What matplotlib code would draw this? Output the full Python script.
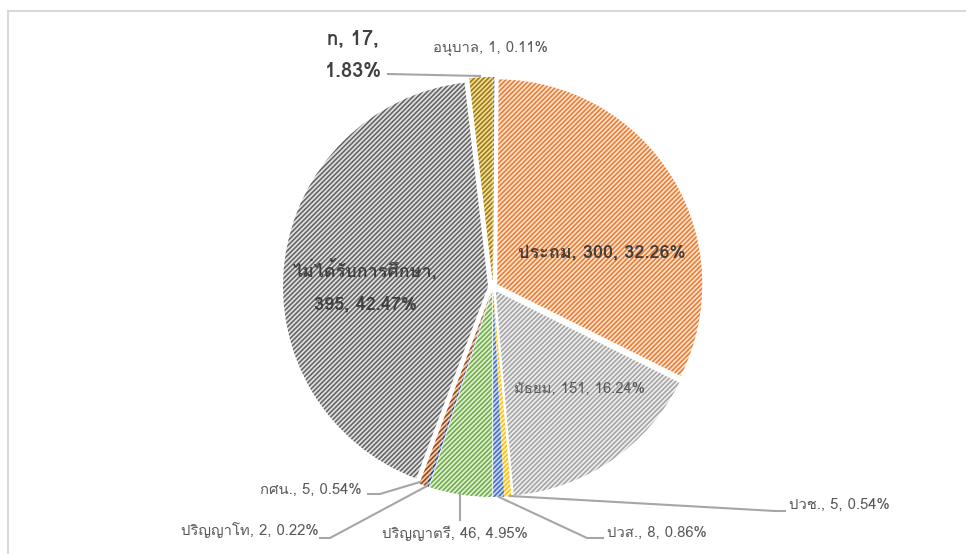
import matplotlib
matplotlib.use('Agg')
import matplotlib.pyplot as plt
from matplotlib import font_manager
from matplotlib.ft2font import FT2Font
from matplotlib.patches import Rectangle

# find an installed font that has Thai glyphs
thai_font = None
for f in font_manager.fontManager.ttflist:
    try:
        if 0x0E01 in FT2Font(f.fname).get_charmap():
            thai_font = f.name
            break
    except Exception:
        pass
families = ([thai_font] if thai_font else []) + ['DejaVu Sans']
plt.rcParams['font.family'] = families
plt.rcParams['hatch.linewidth'] = 1.2

labels = ['อนุบาล', 'ประถม', 'มัธยม', 'ปวช.', 'ปวส.', 'ปริญญาตรี',
          'ปริญญาโท', 'กศน.', 'ไม่ได้รับการศึกษา', 'n']
values = [1, 300, 151, 5, 8, 46, 2, 5, 395, 17]
percents = ['0.11%', '32.26%', '16.24%', '0.54%', '0.86%', '4.95%',
            '0.22%', '0.54%', '42.47%', '1.83%']
line_colors = ['#4472C4', '#ED7D31', '#A5A5A5', '#FFC000', '#4472C4',
               '#70AD47', '#264478', '#9E480E', '#666666', '#A07C10']
fill_colors = ['#DAE3F3', '#FBE5D6', '#EFEFEF', '#FFF2CC', '#C9D7EF',
               '#E2F0D9', '#C9D3E8', '#F0D0B8', '#E2E2E2', '#F0DFA0']

W, H = 966, 554
fig = plt.figure(figsize=(W / 100, H / 100), dpi=100)
ax = fig.add_axes([0, 0, 1, 1])

# chart frame (only left and top edges visible)
fig.patches.append(Rectangle((7.5 / W, -0.1), 1.2, 1.1 - 10.5 / H,
                             transform=fig.transFigure, fill=False,
                             edgecolor='#D9D9D9', linewidth=1.5))

wedges, _ = ax.pie(values, center=(493, H - 287), radius=205,
                   startangle=90, counterclock=False,
                   explode=[5] * len(values), frame=True)
for w, lc, fc in zip(wedges, line_colors, fill_colors):
    w.set_facecolor(fc)
    w.set_edgecolor(lc)
    w.set_linewidth(0)
    w.set_hatch('///////')
ax.set_xlim(0, W)
ax.set_ylim(0, H)
ax.set_aspect('equal')
ax.axis('off')


def lab(i):
    return f'{labels[i]}, {values[i]}, {percents[i]}'


normal = dict(color='#595959', fontsize=10.7)
bold = dict(color='#404040', fontsize=13, fontweight='bold')
lc = '#A6A6A6'

# labels inside slices
ax.text(602, H - 252, lab(1), ha='center', va='center', **bold)
ax.text(580, H - 389, lab(2), ha='center', va='center', **normal)
ax.text(365, H - 286, f'{labels[8]},\n{values[8]}, {percents[8]}',
        ha='center', va='center', linespacing=2.1, **bold)

# labels outside with leader lines
ax.text(353, H - 55, f'{labels[9]}, {values[9]},\n{percents[9]}',
        ha='center', va='center', color='#404040', fontsize=14.5,
        fontweight='bold', linespacing=1.95)
ax.plot([388, 480], [H - 74, H - 76], color=lc, lw=1.5)

ax.text(433, H - 48, lab(0), ha='left', va='center', **normal)

ax.text(789, H - 505, lab(3), ha='left', va='center', **normal)
ax.plot([510, 775, 785], [H - 496, H - 511, H - 511], color=lc, lw=1.5)

ax.text(607, H - 533, lab(4), ha='left', va='center', **normal)
ax.plot([499, 587, 603], [H - 497, H - 538, H - 538], color=lc, lw=1.5)

ax.text(455, H - 533, lab(5), ha='center', va='center', **normal)
ax.plot([460, 460], [H - 494, H - 520], color=lc, lw=1.5)

ax.text(319, H - 530, lab(6), ha='right', va='center', **normal)
ax.plot([427, 330, 320], [H - 486, H - 538, H - 538], color=lc, lw=1.5)

ax.text(362, H - 490, lab(7), ha='right', va='center', **normal)
ax.plot([420, 380, 368], [H - 482, H - 494, H - 494], color=lc, lw=1.5)

fig.savefig('out.png', dpi=100)
